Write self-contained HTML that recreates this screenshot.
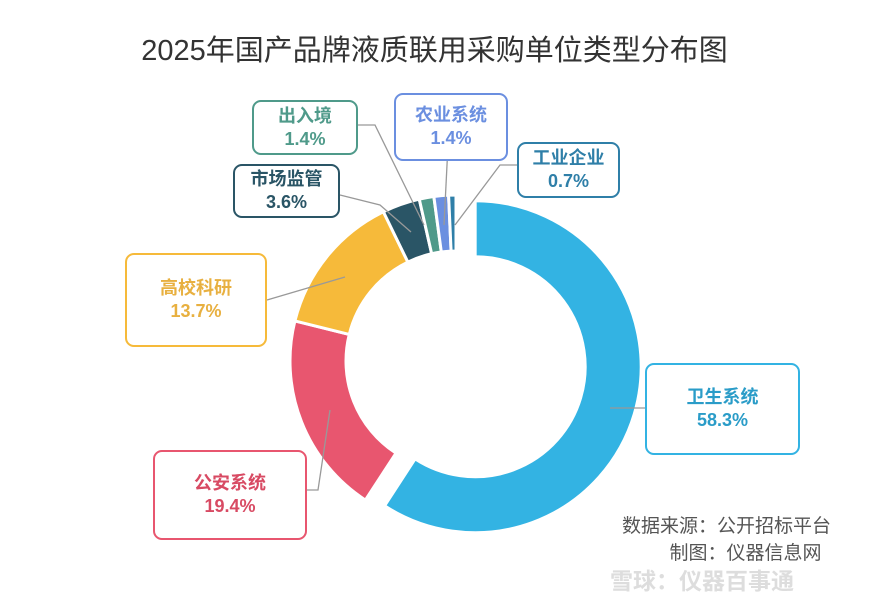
<!DOCTYPE html>
<html><head><meta charset="utf-8">
<style>
body{margin:0;width:869px;height:603px;background:#fff;overflow:hidden;font-family:"Liberation Sans","Noto Sans CJK SC",sans-serif;}
.lbl{position:absolute;border:2px solid;border-radius:9px;background:#fff;text-align:center;font-weight:bold;font-size:18px;line-height:23px;box-sizing:border-box;display:flex;flex-direction:column;justify-content:center;}
</style></head><body>
<div style="position:absolute;left:0;width:869px;top:27px;text-align:center;font-size:29px;color:#333;">2025年国产品牌液质联用采购单位类型分布图</div>
<svg id="chart" width="869" height="603" style="position:absolute;left:0;top:0"></svg>
<div style="position:absolute;left:622px;top:513px;font-size:19px;color:#555;line-height:27px;">数据来源：公开招标平台<br>&nbsp;&nbsp;&nbsp;&nbsp;&nbsp;&nbsp;&nbsp;&nbsp;&nbsp;制图：仪器信息网</div>
<div style="position:absolute;left:610px;top:562px;font-size:23px;color:#ddd;font-weight:bold;">雪球：仪器百事通</div>
<script>
const categories=["卫生系统","公安系统","高校科研","市场监管","出入境","农业系统","工业企业"];
const values=[58.3,19.4,13.7,3.6,1.4,1.4,0.7];
const valueLabels=["58.3%","19.4%","13.7%","3.6%","1.4%","1.4%","0.7%"];
const colors=["#33b3e3","#e8566f","#f6ba3a","#2a5566","#4f9a8a","#6b8fe0","#2f7fa8"];
const textColors=["#2a9cc8","#d84a63","#e8b040","#2a5566","#4f9a8a","#6b8fe0","#2f7fa8"];
const boxes=[[645,363,155,92],[153,450,154,90],[125,253,142,94],[233,164,107,54],[252,100,106,55],[394,93,114,68],[517,142,103,56]];
const leader=[[[610,408],[645,408]],[[330,410],[318,490],[307,490]],[[345,277],[267,300]],[[411,232],[380,205],[340,195]],[[424,225],[375,125],[358,125]],[[444,225],[448,145]],[[455,225],[500,165],[517,165]]];
const svg=document.getElementById('chart');
const NS='http://www.w3.org/2000/svg';
const cx=456,cy=361,R=166,r=110;
const total=values.reduce((a,b)=>a+b,0);
function pt(a,rad,ox,oy){return [ox+rad*Math.sin(a),oy-rad*Math.cos(a)];}
let acc=0;
values.forEach((v,i)=>{
  const a0=acc/total*2*Math.PI, a1=(acc+v)/total*2*Math.PI; acc+=v;
  let ox=cx,oy=cy;
  if(i===0){const m=(a0+a1)/2;ox+=20*Math.sin(m);oy-=20*Math.cos(m);}
  const large=(a1-a0)>Math.PI?1:0;
  const p0=pt(a0,R,ox,oy),p1=pt(a1,R,ox,oy),q1=pt(a1,r,ox,oy),q0=pt(a0,r,ox,oy);
  const p=document.createElementNS(NS,'path');
  p.setAttribute('d',`M${p0}A${R},${R} 0 ${large} 1 ${p1}L${q1}A${r},${r} 0 ${large} 0 ${q0}Z`);
  p.setAttribute('fill',colors[i]);p.setAttribute('stroke','#fff');p.setAttribute('stroke-width','3');
  
  
  svg.appendChild(p);
  const l=document.createElementNS(NS,'polyline');
  l.setAttribute('points',leader[i].map(q=>q.join(',')).join(' '));
  l.setAttribute('fill','none');l.setAttribute('stroke','#999');l.setAttribute('stroke-width','1.3');
  
  
  svg.appendChild(l);
  const b=boxes[i];const d=document.createElement('div');
  d.className='lbl';
  
  
  d.style.cssText+=`left:${b[0]}px;top:${b[1]}px;width:${b[2]}px;height:${b[3]}px;border-color:${colors[i]};color:${textColors[i]};`;
  d.innerHTML=`<div>${categories[i]}</div><div>${valueLabels[i]}</div>`;
  document.body.appendChild(d);
});
</script>
</body></html>
